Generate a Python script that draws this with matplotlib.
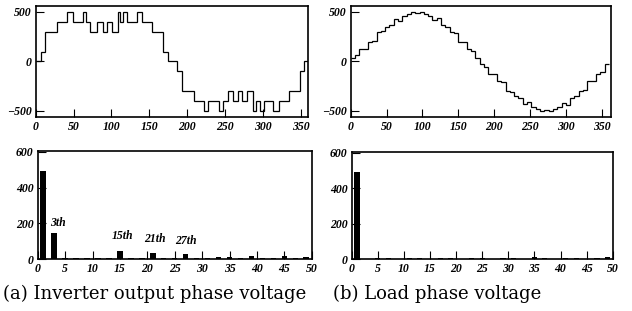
import matplotlib
matplotlib.use("Agg")
import matplotlib.pyplot as plt
import numpy as np

# ---- inverter output phase voltage (staircase, degrees / volts) ----
edges_a = [0, 7, 12.8, 28.2, 41, 48.9, 62.1, 66.5, 71.8, 80.6,
           88.5, 94.3, 100.9, 108.4, 111.4, 115.4, 120.3, 133.5, 140.5, 153.3,
           168.7, 174.4, 186.3, 193.4, 208.4, 221.6, 228.2, 241.8, 248, 253.7,
           261.2, 266.9, 272.2, 278.8, 287.6, 291.2, 296.5, 300.9, 313.2, 320.7,
           333.9, 348.4, 354.2, 360]
levels_a = [0, 100, 300, 400, 500, 400, 500, 400, 300, 400,
            300, 400, 300, 500, 400, 500, 400, 500, 400, 300,
            100, 0, -100, -300, -400, -500, -400, -500, -400, -300,
            -400, -300, -400, -300, -500, -400, -500, -400, -500, -400,
            -300, -100, 0]

# ---- load phase voltage (fine staircase, 6 deg steps) ----
levels_b = [30, 60, 130, 130, 200, 210, 300, 310, 350, 370,
            430, 410, 460, 480, 500, 490, 500, 480, 460, 420,
            440, 370, 350, 300, 290, 200, 200, 130, 110, 30,
            -30, -60, -130, -130, -200, -210, -300, -310, -350, -370,
            -430, -410, -460, -480, -500, -490, -500, -480, -460, -420,
            -440, -370, -350, -300, -290, -200, -200, -130, -110, -30]
edges_b = np.linspace(0, 360, len(levels_b) + 1)

# ---- harmonic spectra (odd orders) ----
orders = [1, 3, 5, 7, 9, 11, 13, 15, 17, 19, 21, 23, 25,
          27, 29, 31, 33, 35, 37, 39, 41, 43, 45, 47, 49]
spec_a = [491, 144, 9, 9, 9, 9, 9, 45, 9, 9, 37, 9, 9,
          30, 9, 9, 15, 15, 9, 20, 9, 9, 20, 9, 15]
spec_b = [490, 0, 9, 8, 0, 8, 8, 0, 8, 8, 0, 8, 8,
          0, 8, 8, 0, 14, 8, 0, 8, 8, 0, 8, 15]
labels_a = {3: "3th", 15: "15th", 21: "21th", 27: "27th"}
label_pos = {3: (3.7, 205), 15: (15.4, 131), 21: (21.3, 113), 27: (27.0, 104)}

W, H = 632, 311
fig = plt.figure(figsize=(W / 100, H / 100), dpi=100)


def rect(l, t, r, b):
    return [l / W, 1 - b / H, (r - l) / W, (b - t) / H]


tickfont = dict(family="Liberation Serif", weight="bold", style="italic", size=8.5)


def style(ax):
    for s in ax.spines.values():
        s.set_linewidth(1.2)
    ax.tick_params(direction="in", length=5.5, width=0.8, top=False, right=False, pad=3)
    for lab in ax.get_xticklabels() + ax.get_yticklabels():
        lab.set_fontproperties(matplotlib.font_manager.FontProperties(**tickfont))


ax1 = fig.add_axes(rect(35.7, 5.7, 308.3, 117))
ax2 = fig.add_axes(rect(350.7, 5.7, 611, 117))
ax3 = fig.add_axes(rect(37.7, 150.7, 311.7, 259.3))
ax4 = fig.add_axes(rect(351.7, 151.7, 612.7, 259.3))

ax1.stairs(levels_a, edges_a, baseline=None, color="black", lw=0.9)
ax2.stairs(levels_b, edges_b, baseline=None, color="black", lw=0.9)
for ax, xmax in ((ax1, 360), (ax2, 363)):
    ax.set_xlim(0, xmax)
    ax.set_ylim(-562, 563)
    ax.set_xticks(range(0, 351, 50))
    ax.set_yticks([-500, 0, 500])
    style(ax)

for ax, spec in ((ax3, spec_a), (ax4, spec_b)):
    ax.bar(orders, spec, width=1.0, color="black")
    ax.set_xlim(0, 50)
    ax.set_ylim(0, 606)
    ax.set_xticks(range(0, 51, 5))
    ax.set_yticks([0, 200, 400, 600])
    style(ax)

annfont = dict(tickfont, size=8.5)
for n, txt in labels_a.items():
    x, y = label_pos[n]
    ax3.text(x, y, txt, ha="center", va="center", **annfont)

capfont = dict(family="DejaVu Serif", size=13)
fig.text(3.3 / W, 1 - 294 / H, "(a) Inverter output phase voltage", ha="left", va="center", **capfont)
fig.text(332.7 / W, 1 - 294 / H, "(b) Load phase voltage", ha="left", va="center", **capfont)

fig.savefig("out.png", dpi=100)
